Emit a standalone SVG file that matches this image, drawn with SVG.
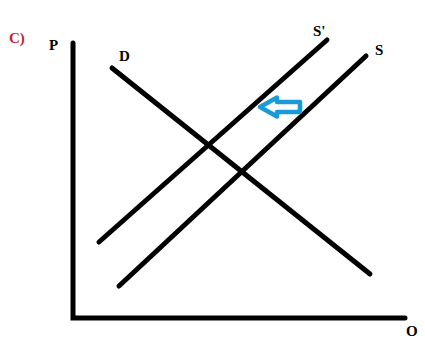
<svg xmlns="http://www.w3.org/2000/svg" width="425" height="338" viewBox="0 0 425 338">
<style>
.ln{stroke:#000;stroke-width:5;stroke-linecap:round;fill:none}
.lb{font-family:"Liberation Serif",serif;font-weight:bold;font-size:15px;fill:#000}
</style>
<rect width="425" height="338" fill="#fff"/>
<text class="lb" x="9" y="43" style="fill:#c0282d">C)</text>
<g id="axes">
<path class="ln" d="M73,43 V318 H405" stroke-linecap="butt"/>
<text class="lb" x="49" y="50">P</text>
<text class="lb" x="406" y="336">O</text>
</g>
<g id="connectors">
<line id="D" class="ln" x1="112" y1="68" x2="370" y2="274"/>
<line id="Sprime" class="ln" x1="99" y1="242" x2="327" y2="40"/>
<line id="S" class="ln" x1="119" y1="286" x2="366" y2="56"/>
</g>
<g id="labels">
<text class="lb" x="119" y="61">D</text>
<text class="lb" x="313" y="36">S'</text>
<text class="lb" x="375" y="55">S</text>
</g>
<g id="shift-arrow">
<polygon points="260,107 277,97.5 277,102 300,102 300,112 277,112 277,116.5" fill="#fff" stroke="#1a9ad6" stroke-width="4.5" stroke-linejoin="round"/>
</g>
</svg>
